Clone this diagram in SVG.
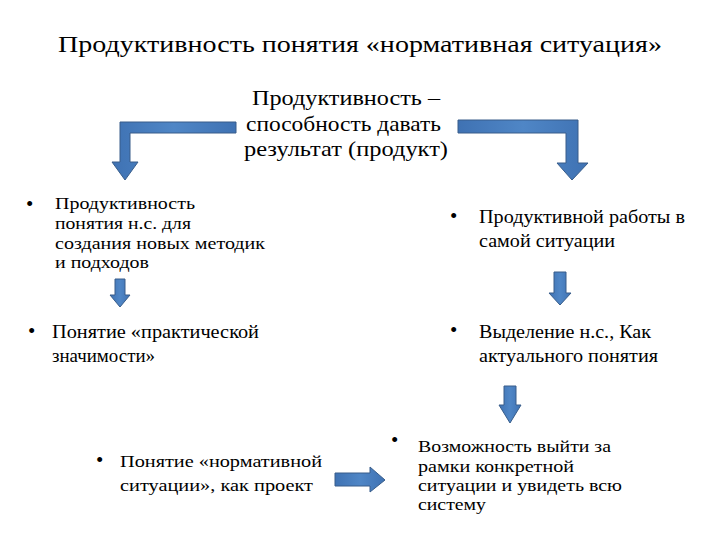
<svg xmlns="http://www.w3.org/2000/svg" width="720" height="540" viewBox="0 0 720 540">
<defs>
<linearGradient id="ag" x1="0" y1="0" x2="1" y2="0">
<stop offset="0" stop-color="#3f72b3"/>
<stop offset="0.5" stop-color="#4f86c6"/>
<stop offset="1" stop-color="#3f72b3"/>
</linearGradient>
</defs>
<style>
text{font-family:'Liberation Serif','Times New Roman',serif;fill:#000}
.t{font-size:24px}
.c{font-size:22px}
.b{font-size:18px}
.s{font-size:17px}
.d{font-size:21px}
.arr{fill:url(#ag);stroke:#385d8a;stroke-width:1}
</style>
<rect width="720" height="540" fill="#fff"/>
<g id="title"><text class="t" x="58" y="52" textLength="604" lengthAdjust="spacingAndGlyphs">Продуктивность понятия «нормативная ситуация»</text></g>
<g id="center">
<text class="c" x="252" y="105" textLength="188" lengthAdjust="spacingAndGlyphs">Продуктивность –</text>
<text class="c" x="246" y="131" textLength="195" lengthAdjust="spacingAndGlyphs">способность давать</text>
<text class="c" x="244" y="156" textLength="204" lengthAdjust="spacingAndGlyphs">результат (продукт)</text>
</g>
<g id="n1">
<text class="d" x="26" y="211">•</text>
<text class="s" x="55" y="209" textLength="140" lengthAdjust="spacingAndGlyphs">Продуктивность</text>
<text class="s" x="55" y="229" textLength="136" lengthAdjust="spacingAndGlyphs">понятия н.с. для</text>
<text class="s" x="55" y="249" textLength="210" lengthAdjust="spacingAndGlyphs">создания новых методик</text>
<text class="s" x="55" y="268" textLength="94" lengthAdjust="spacingAndGlyphs">и подходов</text>
</g>
<g id="n2">
<text class="d" x="450" y="223">•</text>
<text class="b" x="479" y="223" textLength="206" lengthAdjust="spacingAndGlyphs">Продуктивной работы в</text>
<text class="b" x="479" y="247" textLength="136" lengthAdjust="spacingAndGlyphs">самой ситуации</text>
</g>
<g id="n3">
<text class="d" x="28" y="338">•</text>
<text class="b" x="52" y="338" textLength="207" lengthAdjust="spacingAndGlyphs">Понятие «практической</text>
<text class="b" x="52" y="362" textLength="103" lengthAdjust="spacingAndGlyphs">значимости»</text>
</g>
<g id="n4">
<text class="d" x="450" y="337">•</text>
<text class="b" x="479" y="338" textLength="172" lengthAdjust="spacingAndGlyphs">Выделение н.с., Как</text>
<text class="b" x="479" y="362" textLength="179" lengthAdjust="spacingAndGlyphs">актуального понятия</text>
</g>
<g id="n5">
<text class="d" x="96" y="467">•</text>
<text class="s" x="120" y="467" textLength="202" lengthAdjust="spacingAndGlyphs">Понятие «нормативной</text>
<text class="s" x="120" y="491" textLength="193" lengthAdjust="spacingAndGlyphs">ситуации», как проект</text>
</g>
<g id="n6">
<text class="d" x="391" y="447">•</text>
<text class="s" x="418" y="452" textLength="193" lengthAdjust="spacingAndGlyphs">Возможность выйти за</text>
<text class="s" x="418" y="472" textLength="156" lengthAdjust="spacingAndGlyphs">рамки конкретной</text>
<text class="s" x="418" y="491" textLength="204" lengthAdjust="spacingAndGlyphs">ситуации и увидеть всю</text>
<text class="s" x="418" y="510" textLength="68" lengthAdjust="spacingAndGlyphs">систему</text>
</g>
<g id="connectors">
<path class="arr" d="M236,122 L120,122 L120,162 L112,162 L125,180 L138,162 L130,162 L130,133 L236,133 Z"/>
<path class="arr" d="M458,120 L578,120 L578,163 L588,163 L572,180 L557,163 L566,163 L566,133 L458,133 Z"/>
<path class="arr" d="M115,279 L125,279 L125,295 L130,295 L120,307 L110,295 L115,295 Z"/>
<path class="arr" d="M554,272 L566,272 L566,293 L571,293 L560,305 L549,293 L554,293 Z"/>
<path class="arr" d="M504,386 L516,386 L516,405 L521,405 L510,423 L499,405 L504,405 Z"/>
<path class="arr" d="M335,473 L370,473 L370,467 L385,480 L370,492 L370,486 L335,486 Z"/>
</g>
</svg>
